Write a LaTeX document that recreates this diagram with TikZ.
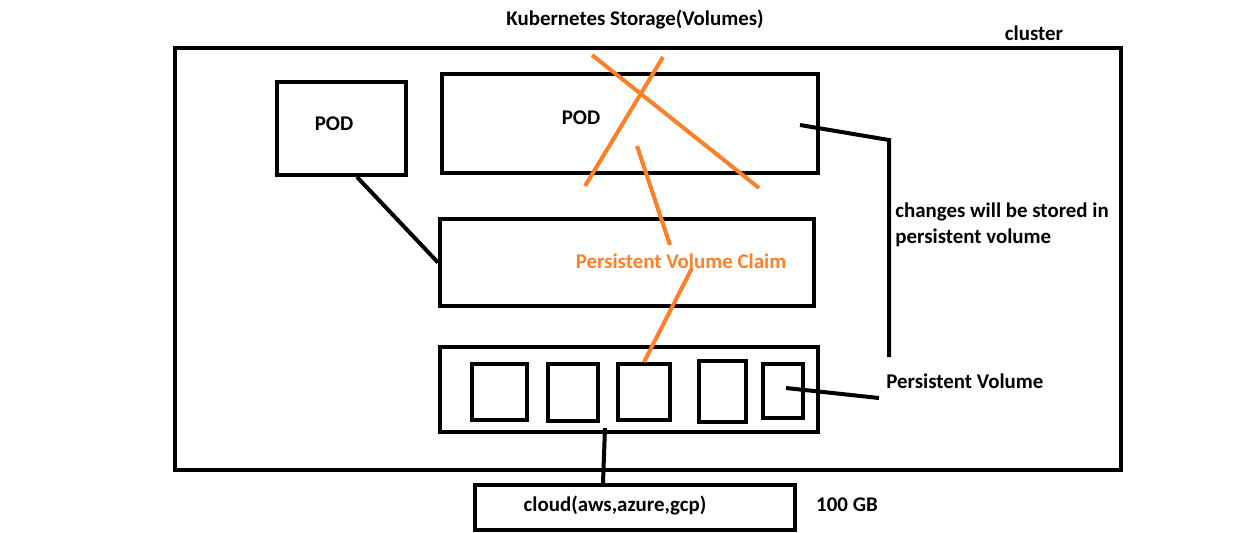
\documentclass[tikz,border=0pt]{standalone}
\usepackage{fontspec}
\setmainfont{Carlito}
\usetikzlibrary{positioning,fit,calc}
\definecolor{paintorange}{RGB}{255,127,39}
\tikzset{
  box/.style={draw,line width=0.08cm,inner sep=0pt},
  wire/.style={line width=0.08cm},
  cross/.style={line width=0.08cm,paintorange},
  lbl/.style={inner sep=0pt,font=\fontsize{11.9}{14.7}\selectfont\bfseries}
}
\begin{document}
\begin{tikzpicture}[x=0.02cm,y=-0.02cm]
\useasboundingbox (0,0) rectangle (1244,532);
% boxes
\node[box,fit={(175,48) (1121,470)}] (cluster) {};
\node[box,fit={(277,82) (406,175)}] (pod1) {};
\node[box,fit={(442,74) (818,173)}] (pod2) {};
\node[box,fit={(440,219) (814,306)}] (pvc) {};
\node[box,fit={(440,347) (818,432)}] (pv) {};
\node[box,fit={(472,364) (527,420)}] (blk1) {};
\node[box,fit={(548,364) (598,421)}] (blk2) {};
\node[box,fit={(618,364) (670,420)}] (blk3) {};
\node[box,fit={(699,361) (746,422)}] (blk4) {};
\node[box,fit={(763,364) (803,418)}] (blk5) {};
\node[box,fit={(475,485) (795,530)}] (cloud) {};
% texts
\node[lbl] (title) at (635,20) {Kubernetes Storage(Volumes)};
\node[lbl] (clusterlbl) at (1034,33) {cluster};
\node[lbl] (podlbl1) at (334,124) {POD};
\node[lbl] (podlbl2) at (581,118) {POD};
\node[lbl,text=paintorange] (pvclbl) at (681,261) {Persistent Volume Claim};
\node[lbl,anchor=west,align=left] (note) at (895,225)
  {changes will be stored in\\persistent volume};
\node[lbl,anchor=west] (pvlbl) at (886,381) {Persistent Volume};
\node[lbl] (cloudlbl) at (615,505) {cloud(aws,azure,gcp)};
\node[lbl] (size) at (847,505) {100 GB};
% connector ends
\coordinate (p1out) at (357,177);
\coordinate (p2in) at (800,125);
\coordinate (bendtop) at (889,140);
\coordinate (bendlow) at (889,357);
\coordinate (b5in) at (786,388);
\coordinate (pvend) at (879,398);
\coordinate (pvout) at (605,428);
\coordinate (x1a) at (592,55);
\coordinate (x1b) at (759,188);
\coordinate (x2a) at (663,57);
\coordinate (x2b) at (585,186);
\coordinate (claima) at (637,146);
\coordinate (claimb) at (670,245);
\coordinate (claimc) at (692,268);
% black connectors
\draw[wire] (p1out) -- (pvc.west);
\draw[wire] (p2in) -- (bendtop) -- (bendlow);
\draw[wire] (b5in) -- (pvend);
\draw[wire] (pvout) -- (cloud.north -| 603,0);
% orange strokes
\draw[cross] (x1a) -- (x1b);
\draw[cross] (x2a) -- (x2b);
\draw[cross] (claima) -- (claimb);
\draw[cross] (claimc) -- (blk3.north);
\end{tikzpicture}
\end{document}
